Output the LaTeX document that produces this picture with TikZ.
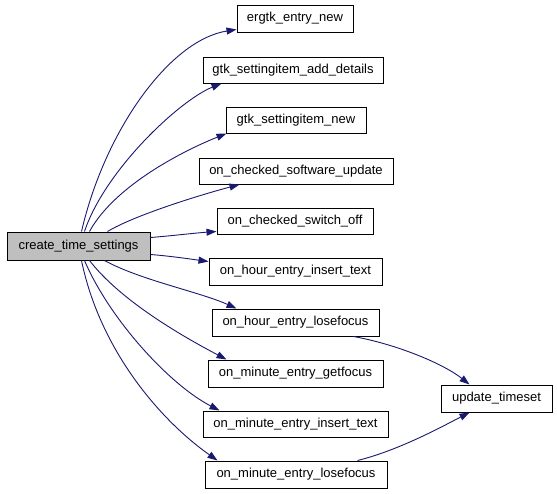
\documentclass[tikz,border=0pt]{standalone}
\usepackage{fontspec}
\setmainfont{Liberation Sans}
\usetikzlibrary{arrows.meta,calc}
\definecolor{edgeblue}{HTML}{191970}
\definecolor{boxgray}{HTML}{BFBFBF}
\begin{document}
\begin{tikzpicture}[x=1pt,y=-1pt,
  fn/.style={draw=black,line width=1pt,fill=white,minimum height=27pt,inner sep=0pt,
    font=\fontsize{13}{15}\selectfont},
  call/.style={draw=edgeblue,line width=0.9pt,-{Triangle[length=10pt,width=7pt]}}]
\useasboundingbox (0,0) rectangle (557,493);
\node[fn,fill=boxgray,minimum width=143pt,minimum height=28pt] (cts) at (78.5,246) {create\_time\_settings};
\node[fn,minimum width=116pt] (ergtk) at (295,18.5) {ergtk\_entry\_new};
\node[fn,minimum width=180pt,minimum height=26pt] (add) at (293,70) {gtk\_settingitem\_add\_details};
\node[fn,minimum width=140pt,minimum height=26pt] (sinew) at (296,120) {gtk\_settingitem\_new};
\node[fn,minimum width=194pt,minimum height=26pt] (sw) at (296,171) {on\_checked\_software\_update};
\node[fn,minimum width=156pt,minimum height=26pt] (off) at (295,221) {on\_checked\_switch\_off};
\node[fn,minimum width=173pt] (hins) at (295.5,271.5) {on\_hour\_entry\_insert\_text};
\node[fn,minimum width=167pt] (hlose) at (295.5,322.5) {on\_hour\_entry\_losefocus};
\node[fn,minimum width=175pt] (mget) at (295.5,373.5) {on\_minute\_entry\_getfocus};
\node[fn,minimum width=185pt,minimum height=26pt] (mins) at (295.5,424) {on\_minute\_entry\_insert\_text};
\node[fn,minimum width=182pt] (mlose) at (296,474.5) {on\_minute\_entry\_losefocus};
\node[fn,minimum width=111pt] (upd) at (496.5,398.5) {update\_timeset};

\draw[call] ($(cts.north west)+(75,0)$) .. controls (105,130) and (170,40) .. ($(ergtk.south west)+(0,-3)$);
\draw[call] ($(cts.north west)+(78,0)$) .. controls (105,170) and (180,100) .. ($(add.south west)+(19,0)$);
\draw[call] ($(cts.north west)+(83,0)$) .. controls (115,185) and (185,150) .. ($(sinew.south west)+(1,0)$);
\draw[call] ($(cts.north west)+(101,0)$) .. controls (135,215) and (200,195) .. ($(sw.south west)+(41,0)$);
\draw[call] ($(cts.north east)+(0,6)$) .. controls (170,236) and (195,233) .. ($(off.south west)+(0,-3)$);
\draw[call] ($(cts.south east)+(0,-6)$) .. controls (170,256) and (190,259) .. ($(hins.north west)+(0,4)$);
\draw[call] ($(cts.south west)+(98,0)$) .. controls (140,280) and (200,292) .. ($(hlose.north west)+(25,0)$);
\draw[call] ($(cts.south west)+(83,0)$) .. controls (120,300) and (180,335) .. ($(mget.north west)+(19,0)$);
\draw[call] ($(cts.south west)+(78,0)$) .. controls (110,320) and (170,385) .. ($(mins.north west)+(17,0)$);
\draw[call] ($(cts.south west)+(75,0)$) .. controls (100,350) and (160,420) .. ($(mlose.north west)+(13,0)$);
\draw[call] ($(hlose.south east)+(-26,0)$) .. controls (400,345) and (445,365) .. ($(upd.north west)+(29,0)$);
\draw[call] ($(mlose.north east)+(-30,0)$) .. controls (400,450) and (445,425) .. ($(upd.south west)+(29,0)$);
\end{tikzpicture}
\end{document}
